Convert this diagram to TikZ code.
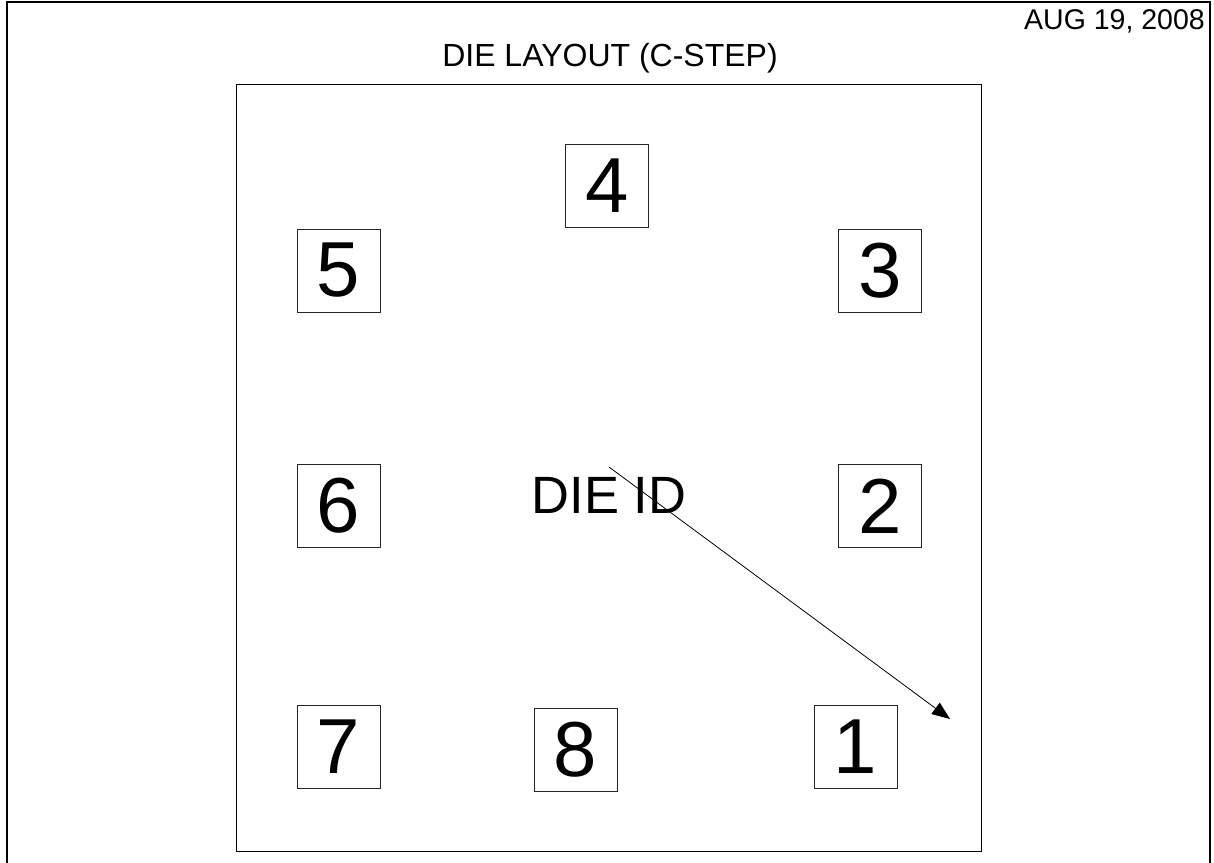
\documentclass[tikz,border=0pt]{standalone}
\usepackage{fontspec}
\setmainfont{Liberation Sans}
\usetikzlibrary{arrows.meta}
\begin{document}
\begin{tikzpicture}[x=1pt,y=-1pt,
  numbox/.style={draw=black!85,line width=1pt,minimum width=83pt,minimum height=83pt,inner sep=0pt,font=\fontsize{78}{82}\selectfont},
  frame/.style={draw=black,line width=2pt},
  die/.style={draw=black,line width=1pt},
  ptr/.style={line width=0.8pt,-{Triangle[length=18pt,width=14pt]}}]
\useasboundingbox (0,0) rectangle (1214,862);
\fill[white] (0,0) rectangle (1214,862);
\draw[frame] (7,880) -- (7,2) -- (1210,2) -- (1210,880);
\node[anchor=base east,font=\fontsize{28.5}{30}\selectfont,inner sep=0pt] (date) at (1205,29) {AUG 19, 2008};
\node[anchor=base,font=\fontsize{32}{34}\selectfont,inner sep=0pt] (title) at (610,66) {DIE LAYOUT (C-STEP)};
\draw[die] (236,84) rectangle (981,851);
\node[numbox] (n4) at (607,185.5) {4};
\node[numbox] (n5) at (338.5,270.5) {5};
\node[numbox] (n3) at (880,271) {3};
\node[numbox] (n6) at (338.5,506) {6};
\node[numbox] (n2) at (880,506) {2};
\node[numbox] (n7) at (338.5,746.5) {7};
\node[numbox] (n8) at (575.5,750) {8};
\node[numbox] (n1) at (855.5,746.5) {1};
\node[anchor=base,font=\fontsize{52.5}{56}\selectfont,inner sep=0pt] (dieid) at (609,513) {DIE ID};
\coordinate (a0) at (609,467);
\coordinate (a1) at (950,719);
\draw[ptr] (a0) -- (a1);
\end{tikzpicture}
\end{document}
